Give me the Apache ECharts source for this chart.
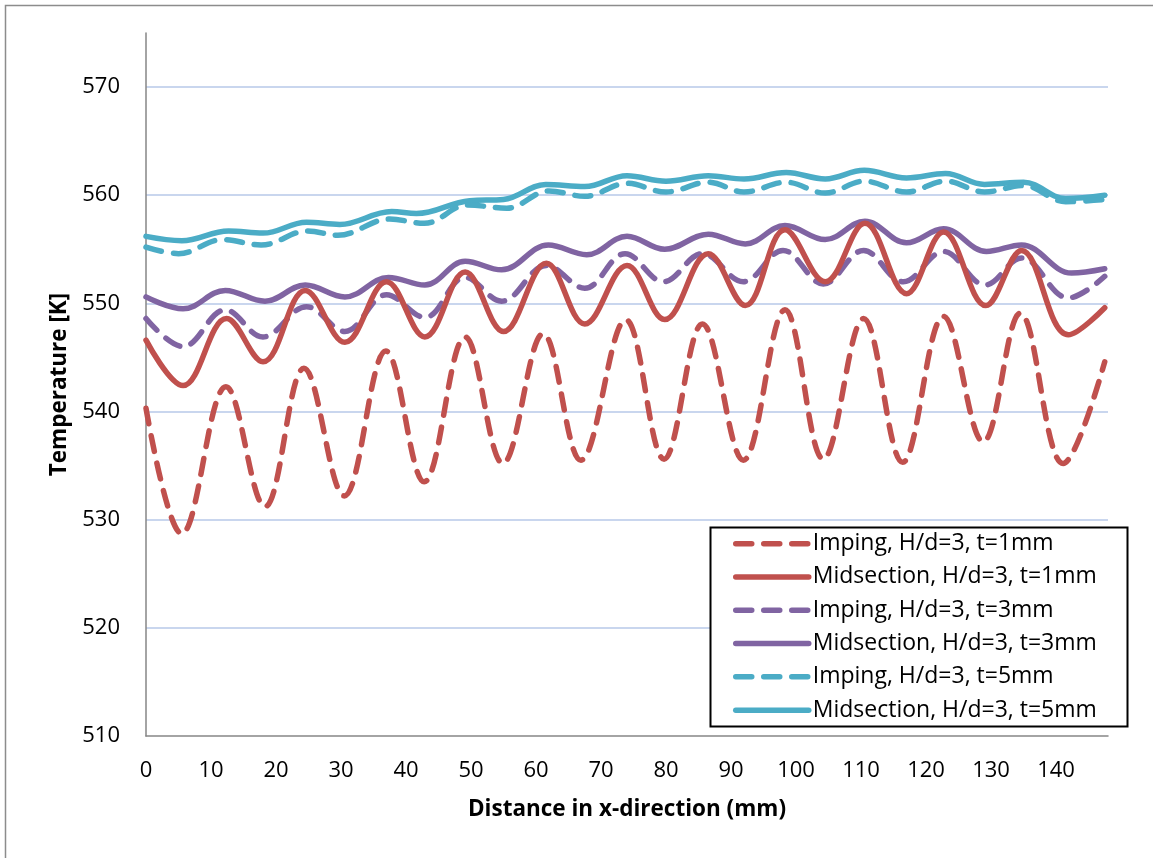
<!DOCTYPE html>
<html>
<head>
<meta charset="utf-8">
<script src="https://cdn.jsdelivr.net/npm/echarts@6/dist/echarts.min.js"></script>
<style>
html,body{margin:0;padding:0;background:#fff;}
#chart{width:1153px;height:858px;}
</style>
</head>
<body>
<div id="chart"></div>
<script>
// Series names
const seriesNames = [
  'Imping, H/d=3, t=1mm',
  'Midsection, H/d=3, t=1mm',
  'Imping, H/d=3, t=3mm',
  'Midsection, H/d=3, t=3mm',
  'Imping, H/d=3, t=5mm',
  'Midsection, H/d=3, t=5mm'
];

// Imping t=1mm
const impT1_x = [0, 5.5, 12.3, 18.3, 24.3, 30.5, 36.9, 42.8, 49.1, 54.9, 61.1, 66.9, 73.8, 79.7, 85.6, 91.9, 98.3, 104.2, 110.4, 116.4, 122.7, 128.8, 134.5, 141.1, 147.5];
const impT1_y = [540.3, 528.7, 542.3, 531.2, 544.0, 532.2, 545.6, 533.5, 546.9, 535.2, 547.2, 535.5, 548.5, 535.6, 548.1, 535.5, 549.4, 535.6, 548.6, 535.3, 548.8, 537.2, 549.1, 535.2, 544.6];

// Midsection t=1mm
const midT1_x = [0, 5.7, 12.4, 18.0, 24.5, 30.6, 37.0, 42.9, 49.1, 55.0, 61.6, 67.5, 74.0, 79.8, 86.5, 92.2, 98.3, 104.5, 110.6, 117.0, 122.7, 129.2, 134.7, 141.9, 147.5];
const midT1_y = [546.6, 542.4, 548.6, 544.6, 551.2, 546.4, 552.0, 546.9, 552.9, 547.4, 553.7, 548.1, 553.5, 548.5, 554.6, 549.8, 556.8, 552.0, 557.4, 550.9, 556.6, 549.8, 554.9, 547.1, 549.6];

// Imping t=3mm
const impT3_x = [0, 5.7, 12.2, 18.0, 24.7, 30.6, 37.0, 42.9, 49.1, 54.7, 61.6, 67.5, 73.7, 79.6, 85.6, 91.9, 98.0, 104.2, 110.4, 116.5, 122.7, 129.1, 134.7, 141.9, 147.5];
const impT3_y = [548.6, 546.0, 549.4, 546.9, 549.7, 547.4, 550.8, 548.7, 552.4, 550.2, 553.5, 551.4, 554.6, 552.0, 554.6, 552.0, 554.9, 551.8, 554.9, 552.0, 554.8, 551.7, 554.2, 550.5, 552.5];

// Midsection t=3mm
const midT3_x = [0, 5.7, 12.2, 18.3, 24.5, 30.6, 37.3, 42.9, 49.1, 54.7, 61.9, 67.8, 74.0, 79.8, 86.5, 92.2, 98.3, 104.5, 110.6, 117.0, 122.7, 129.3, 134.7, 142.4, 147.5];
const midT3_y = [550.6, 549.5, 551.2, 550.2, 551.7, 550.6, 552.4, 551.7, 553.9, 553.1, 555.4, 554.5, 556.2, 555.0, 556.4, 555.5, 557.2, 555.9, 557.6, 555.6, 556.9, 554.8, 555.4, 552.8, 553.2];

// Imping t=5mm
const impT5_x = [0, 5.0, 11.8, 17.7, 24.9, 29.5, 37.5, 42.8, 49.5, 55.5, 62.0, 67.5, 74.0, 80.0, 86.5, 92.0, 98.5, 104.5, 110.5, 117.0, 123.0, 129.0, 135.0, 141.5, 147.5];
const impT5_y = [555.2, 554.6, 555.9, 555.4, 556.7, 556.3, 557.8, 557.4, 559.1, 558.8, 560.4, 559.9, 561.1, 560.3, 561.2, 560.3, 561.2, 560.2, 561.3, 560.3, 561.3, 560.3, 560.9, 559.4, 559.6];

// Midsection t=5mm
const midT5_x = [0, 5.5, 12.7, 18.0, 24.7, 29.8, 37.8, 41.6, 49.8, 55.0, 61.5, 67.5, 74.0, 80.0, 86.5, 92.0, 98.5, 104.5, 110.5, 117.0, 123.0, 129.0, 135.0, 141.5, 147.5];
const midT5_y = [556.2, 555.8, 556.7, 556.5, 557.5, 557.3, 558.5, 558.3, 559.5, 559.6, 561.0, 560.8, 561.8, 561.3, 561.8, 561.5, 562.1, 561.5, 562.3, 561.6, 562.0, 561.0, 561.2, 559.7, 560.0];

// Axis ticks
const xTicks = [0, 10, 20, 30, 40, 50, 60, 70, 80, 90, 100, 110, 120, 130, 140];
const yTicks = [510, 520, 530, 540, 550, 560, 570];

const colors = ['#C0504D', '#C0504D', '#8064A2', '#8064A2', '#4BACC6', '#4BACC6'];
const dashed = [true, false, true, false, true, false];
const xsList = [impT1_x, midT1_x, impT3_x, midT3_x, impT5_x, midT5_x];
const ysList = [impT1_y, midT1_y, impT3_y, midT3_y, impT5_y, midT5_y];

const FONT = 'Open Sans';
const LW = 5.5;
const DASH = [16, 12];

const series = seriesNames.map((name, i) => ({
  name: name,
  type: 'line',
  smooth: 0.38,
  symbol: 'none',
  data: xsList[i].map((x, k) => [x, ysList[i][k]]),
  lineStyle: {
    color: colors[i],
    width: LW,
    type: dashed[i] ? DASH : 'solid',
    cap: 'round',
    join: 'round'
  },
  itemStyle: { color: colors[i] },
  emphasis: { disabled: true },
  z: 10 - i
}));

const chart = echarts.init(document.getElementById('chart'), null, { renderer: 'canvas' });
chart.setOption({
  animation: false,
  backgroundColor: '#ffffff',
  textStyle: { fontFamily: FONT },
  grid: { left: 146, right: 45, top: 33, bottom: 122, containLabel: false },
  xAxis: {
    type: 'value',
    min: 0,
    max: 148,
    interval: 10,
    name: 'Distance in x-direction (mm)',
    nameLocation: 'middle',
    nameGap: 62,
    nameTextStyle: { fontFamily: FONT, fontSize: 22.5, fontWeight: 'bold', color: '#000' },
    axisLine: { show: true, lineStyle: { color: '#868686', width: 1.5 } },
    axisTick: { show: false },
    axisLabel: {
      fontFamily: FONT, fontSize: 22, color: '#000', margin: 24,
      showMaxLabel: false,
      formatter: v => (xTicks.indexOf(v) >= 0 ? String(v) : '')
    },
    splitLine: { show: false }
  },
  yAxis: {
    type: 'value',
    min: 510,
    max: 575,
    interval: 10,
    name: 'Temperature [K]',
    nameLocation: 'middle',
    nameGap: 75,
    nameRotate: 90,
    nameTextStyle: { fontFamily: FONT, fontSize: 22.5, fontWeight: 'bold', color: '#000' },
    axisLine: { show: true, lineStyle: { color: '#868686', width: 1.5 } },
    axisTick: { show: false },
    axisLabel: {
      fontFamily: FONT, fontSize: 22, color: '#000', margin: 26,
      showMaxLabel: false,
      formatter: v => (yTicks.indexOf(v) >= 0 ? String(v) : '')
    },
    splitLine: { show: true, showMinLine: false, showMaxLine: false, lineStyle: { color: '#B7C9E8', width: 1.5 } }
  },
  legend: {
    orient: 'vertical',
    left: 733,
    top: 527,
    padding: 0,
    itemGap: 0,
    itemWidth: 73,
    itemHeight: 14,
    z: 20,
    data: seriesNames,
    itemStyle: { opacity: 0 },
    lineStyle: { width: LW, cap: 'round' },
    textStyle: { fontFamily: FONT, fontSize: 23, color: '#000', lineHeight: 33.3, padding: [0, 0, 0, -1] },
    selectedMode: false
  },
  graphic: [
    {
      type: 'rect',
      shape: { x: 5.5, y: 5.5, width: 1300, height: 1000 },
      style: { fill: null, stroke: '#8c8c8c', lineWidth: 1.5 },
      silent: true, z: -1
    },
    {
      type: 'rect',
      shape: { x: 710.5, y: 527.5, width: 417, height: 199 },
      style: { fill: '#ffffff', stroke: '#000000', lineWidth: 2 },
      silent: true, z: 1
    }
  ],
  series: series
});
</script>
</body>
</html>
